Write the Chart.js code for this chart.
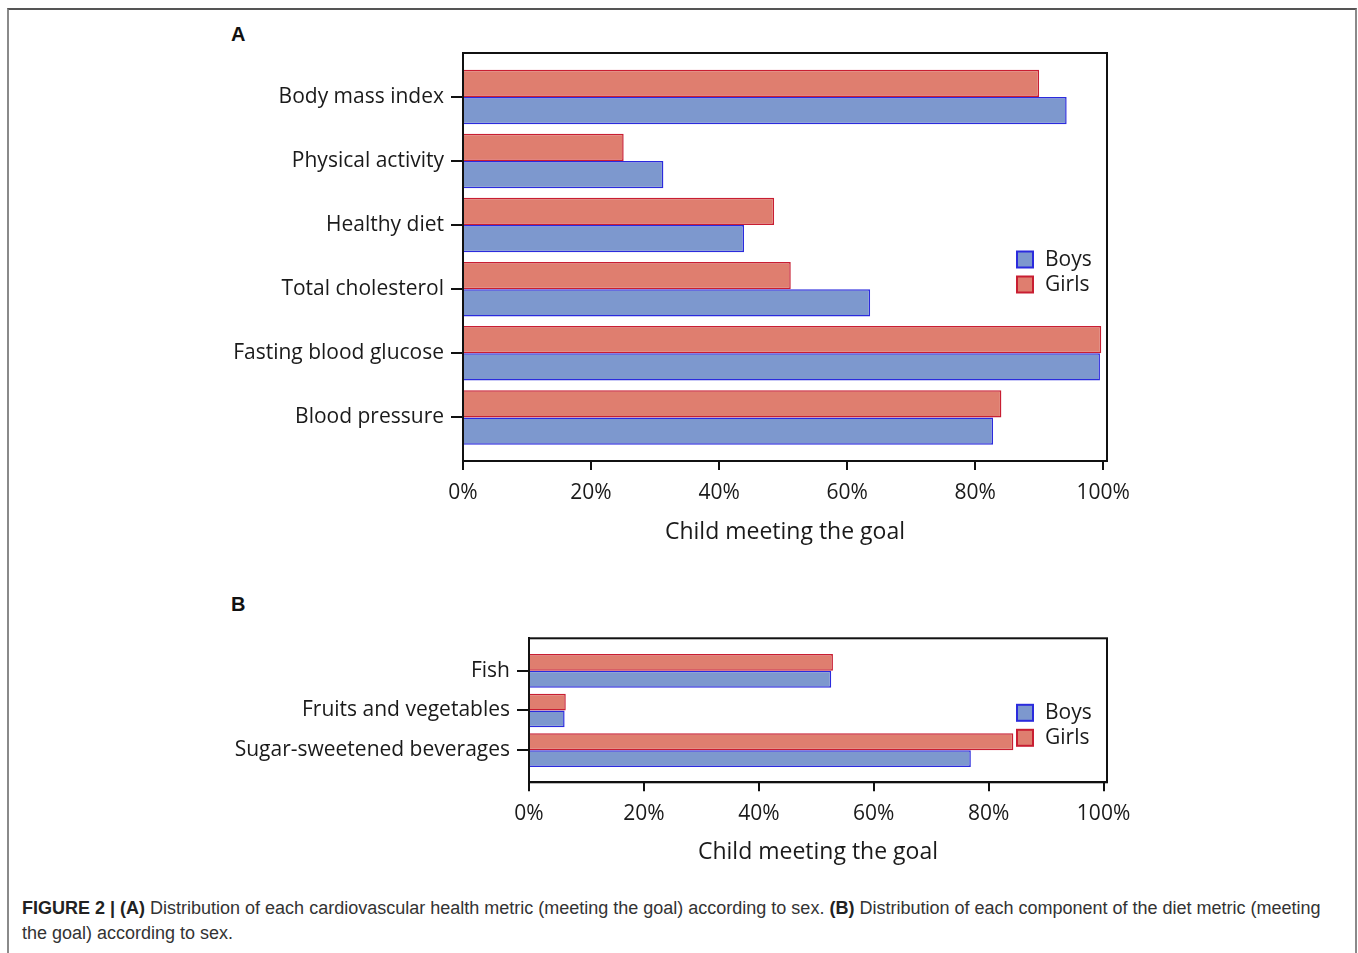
<!DOCTYPE html>
<html>
<head>
<meta charset="utf-8">
<script src="https://cdn.jsdelivr.net/npm/chart.js@4.4.1/dist/chart.umd.min.js"></script>
<style>
  html, body { margin: 0; padding: 0; background: #fff; }
  body { width: 1358px; height: 953px; position: relative; overflow: hidden; }
  #frame { position: absolute; left: 7px; top: 8px; width: 1346px; height: 960px;
           border-left: 2px solid #8a8a8a; border-right: 2px solid #8a8a8a; border-top: 2px solid #555; }
  canvas { position: absolute; left: 0; }
  #cA { top: 0; }
  #cB { top: 560px; }
  .panel { position: absolute; font-family: 'Liberation Sans', Arial, sans-serif; font-weight: bold; font-size: 20px; color: #111; }
  #caption { position: absolute; left: 22px; top: 896px; width: 1330px; font-family: 'Liberation Sans', Arial, sans-serif;
             font-size: 18px; line-height: 25px; color: #333; letter-spacing: 0px; white-space: nowrap; }
  #caption b { color: #222; }
</style>
</head>
<body>
<div id="frame"></div>
<div class="panel" style="left:231px; top:23px;">A</div>
<div class="panel" style="left:231px; top:593px;">B</div>
<canvas id="cA" width="1358" height="560"></canvas>
<canvas id="cB" width="1358" height="320"></canvas>
<div id="caption"><b>FIGURE 2 | (A)</b> Distribution of each cardiovascular health metric (meeting the goal) according to sex. <b>(B)</b> Distribution of each component of the diet metric (meeting<br>the goal) according to sex.</div>
<script>
// ---- Data ----
const metricsA = ['Body mass index', 'Physical activity', 'Healthy diet', 'Total cholesterol', 'Fasting blood glucose', 'Blood pressure'];
const boysA  = [94.3, 31.3, 43.9, 63.6, 99.5, 82.8];
const girlsA = [90.0, 25.1, 48.6, 51.2, 99.7, 84.1];

const metricsB = ['Fish', 'Fruits and vegetables', 'Sugar-sweetened beverages'];
const boysB  = [52.6, 6.2, 76.9];
const girlsB = [52.9, 6.4, 84.3];

const xTicks = [0, 20, 40, 60, 80, 100];
const seriesNames = ['Boys', 'Girls'];
const axisTitle = 'Child meeting the goal';

// ---- Styles ----
const boysFill = '#7D98CE', boysLine = '#2B2BDD';
const girlsFill = '#DF7E6F', girlsLine = '#C81E32';
Chart.defaults.font.family = "'Open Sans', 'Noto Sans', sans-serif";
Chart.defaults.color = '#1a1a1a';

const frameAndLegend = {
  id: 'frameAndLegend',
  afterDraw(chart) {
    const ctx = chart.ctx, a = chart.chartArea;
    ctx.save();
    ctx.strokeStyle = '#111';
    ctx.lineWidth = 2;
    ctx.strokeRect(a.left, a.top, a.right - a.left, a.bottom - a.top);
    // legend (Boys first, Girls second)
    const items = chart.data.datasets.slice().reverse();
    const box = 16, gap = 25;
    const totalH = box + gap * (items.length - 1);
    let y0 = (a.top + a.bottom) / 2 + 15 - totalH / 2;
    const x0 = a.right - 90;
    ctx.font = "21px 'Open Sans', sans-serif";
    ctx.textBaseline = 'middle';
    ctx.textAlign = 'left';
    items.forEach((ds, i) => {
      const y = y0 + i * gap;
      ctx.fillStyle = ds.backgroundColor;
      ctx.fillRect(x0, y, box, box);
      ctx.strokeStyle = ds.borderColor;
      ctx.lineWidth = 2;
      ctx.strokeRect(x0, y, box, box);
      ctx.fillStyle = '#1a1a1a';
      ctx.fillText(ds.label, x0 + 28, y + box / 2 + 0.5);
    });
    ctx.restore();
  }
};

function makeChart(id, cats, boys, girls, yMin, yMax, padTop, axisH, yW) {
  const toPts = arr => arr.map((v, i) => ({ x: v, y: i }));
  return new Chart(document.getElementById(id), {
    type: 'bar',
    data: {
      datasets: [
        { label: seriesNames[1], data: toPts(girls), backgroundColor: girlsFill, borderColor: girlsLine, borderWidth: 1.5 },
        { label: seriesNames[0], data: toPts(boys), backgroundColor: boysFill, borderColor: boysLine, borderWidth: 1.5 }
      ]
    },
    options: {
      indexAxis: 'y',
      responsive: false,
      animation: false,
      categoryPercentage: 0.85,
      barPercentage: 1.0,
      layout: { padding: { left: 0, top: padTop, right: 251, bottom: 0 } },
      plugins: { legend: { display: false }, tooltip: { enabled: false } },
      scales: {
        x: {
          type: 'linear', min: 0, max: 100.6, offset: false,
          afterBuildTicks: s => { s.ticks = xTicks.map(v => ({ value: v })); },
          afterFit: s => { s.height = axisH; },
          ticks: { callback: v => v + '%', font: { size: 21 }, padding: 10, maxRotation: 0, autoSkip: false },
          grid: { display: true, offset: false, drawOnChartArea: false, drawTicks: true, tickLength: 9, color: '#111', lineWidth: 2 },
          border: { display: true, color: '#111', width: 2 },
          title: { display: true, text: axisTitle, font: { size: 23 }, padding: { top: 0, bottom: 14 } }
        },
        y: {
          type: 'linear', min: yMin, max: yMax, reverse: true, offset: false, bounds: 'data',
          afterBuildTicks: s => { s.ticks = cats.map((c, i) => ({ value: i })); },
          afterFit: s => { s.width = yW; },
          ticks: { callback: v => cats[v], font: { size: 21 }, padding: 7, autoSkip: false },
          grid: { display: true, offset: false, drawOnChartArea: false, drawTicks: true, tickLength: 12, color: '#111', lineWidth: 2 },
          border: { display: true, color: '#111', width: 2 }
        }
      }
    },
    plugins: [frameAndLegend]
  });
}

makeChart('cA', metricsA, boysA, girlsA, -0.685, 5.68, 53, 99, 463);
makeChart('cB', metricsB, boysB, girlsB, -0.82, 2.81, 78.3, 97.7, 529);
</script>
</body>
</html>
